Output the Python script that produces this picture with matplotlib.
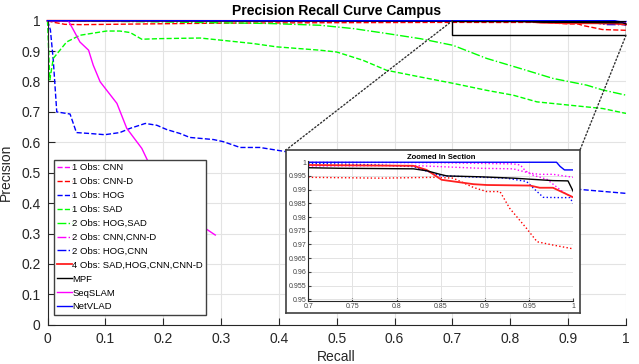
"""Precision recall curves for the Campus dataset, with a zoomed inset."""

import matplotlib

matplotlib.use("Agg")

import matplotlib.pyplot as plt
from matplotlib.patches import ConnectionPatch, Rectangle

plt.rcParams["font.family"] = ["Liberation Sans", "DejaVu Sans"]

# --- data ------------------------------------------------------------------
cnn_x = [0, 0.2, 0.5, 0.7, 0.85, 0.932, 0.94, 0.946, 0.955, 0.97, 0.983, 0.99, 1.0]
cnn_y = [1, 1, 1, 1, 0.9998, 0.9994, 0.999, 0.9968, 0.9952, 0.9938, 0.9905, 0.9888, 0.987]

cnnd_x = [0, 0.01, 0.03, 0.06, 0.15, 0.3, 0.5, 0.7, 0.781, 0.845, 0.864, 0.887,
          0.902, 0.917, 0.928, 0.947, 0.959, 0.977, 1.0]
cnnd_y = [1, 0.995, 0.988, 0.987, 0.989, 0.992, 0.9935, 0.9945, 0.9942, 0.9945,
          0.9942, 0.9908, 0.9893, 0.9893, 0.9832, 0.9759, 0.971, 0.9698, 0.9684]

hog_x = [0, 0.005, 0.010, 0.016, 0.039, 0.050, 0.073, 0.099, 0.125, 0.143, 0.169,
         0.189, 0.206, 0.229, 0.246, 0.287, 0.304, 0.333, 0.367, 0.413, 0.5, 0.6,
         0.7, 0.8, 0.92, 1.0]
hog_y = [1, 0.97, 0.87, 0.70, 0.693, 0.632, 0.629, 0.625, 0.632, 0.646, 0.662,
         0.656, 0.642, 0.629, 0.616, 0.609, 0.602, 0.583, 0.583, 0.569, 0.545, 0.52,
         0.495, 0.47, 0.445, 0.432]

sad_x = [0, 0.004, 0.010, 0.033, 0.056, 0.102, 0.125, 0.143, 0.163, 0.194, 0.264,
         0.310, 0.355, 0.396, 0.471, 0.500, 0.545, 0.586, 0.644, 0.701, 0.759,
         0.805, 0.846, 0.903, 0.960, 1.0]
sad_y = [1, 0.805, 0.876, 0.930, 0.952, 0.966, 0.966, 0.961, 0.939, 0.941, 0.943,
         0.934, 0.925, 0.914, 0.903, 0.897, 0.870, 0.837, 0.815, 0.794, 0.771,
         0.755, 0.733, 0.722, 0.711, 0.695]

hogsad_x = [0, 0.05, 0.2, 0.3, 0.38, 0.471, 0.529, 0.586, 0.644, 0.701, 0.759,
            0.817, 0.874, 0.932, 0.960, 1.0]
hogsad_y = [1, 0.999, 0.996, 0.993, 0.991, 0.985, 0.974, 0.958, 0.941, 0.919,
            0.876, 0.843, 0.810, 0.788, 0.772, 0.755]

cnncnnd_x = [0, 0.3, 0.7, 0.82, 0.894, 0.932, 0.951, 0.962, 0.977, 1.0]
cnncnnd_y = [1, 0.9995, 0.9986, 0.9988, 0.9978, 0.9976, 0.996, 0.9956, 0.9956, 0.9945]

hogcnn_x = [0, 0.3, 0.7, 0.781, 0.819, 0.849, 0.879, 0.924, 0.947, 0.955, 0.966,
            0.985, 0.996, 1.0]
hogcnn_y = [1, 0.9998, 0.9996, 0.999, 0.9984, 0.9951, 0.9947, 0.9942, 0.993,
            0.9905, 0.9872, 0.9871, 0.9871, 0.985]

obs4_x = [0, 0.3, 0.7, 0.819, 0.834, 0.851, 0.887, 0.902, 0.951, 0.962, 0.977, 1.0]
obs4_y = [1, 0.9995, 0.999, 0.9987, 0.9972, 0.9936, 0.992, 0.9917, 0.9915, 0.9907,
          0.9907, 0.9872]

mpf_x = [0, 0.3, 0.7, 0.736, 0.819, 0.834, 0.849, 0.857, 0.894, 0.932, 0.977, 0.994, 1.0]
mpf_y = [1, 0.999, 0.998, 0.9978, 0.9976, 0.9969, 0.9956, 0.995, 0.9947, 0.9942,
         0.9933, 0.9932, 0.9893]

seqslam_x = [0, 0.036, 0.045, 0.056, 0.071, 0.079, 0.091, 0.120, 0.137, 0.148,
             0.163, 0.174, 0.22, 0.264, 0.290]
seqslam_y = [1, 1, 0.969, 0.930, 0.903, 0.854, 0.799, 0.728, 0.646, 0.618, 0.580,
             0.536, 0.43, 0.328, 0.295]

netvlad_x = [0, 0.981, 0.985, 0.99, 1.0]
netvlad_y = [1, 1, 0.9985, 0.9972, 0.9972]

ticks_main = [0, 0.1, 0.2, 0.3, 0.4, 0.5, 0.6, 0.7, 0.8, 0.9, 1]
ticks_main_lbl = ["0", "0.1", "0.2", "0.3", "0.4", "0.5", "0.6", "0.7", "0.8", "0.9", "1"]
ticks_zx = [0.7, 0.75, 0.8, 0.85, 0.9, 0.95, 1]
ticks_zx_lbl = ["0.7", "0.75", "0.8", "0.85", "0.9", "0.95", "1"]
ticks_zy = [0.95, 0.955, 0.96, 0.965, 0.97, 0.975, 0.98, 0.985, 0.99, 0.995, 1]
ticks_zy_lbl = ["0.95", "0.955", "0.96", "0.965", "0.97", "0.975", "0.98", "0.985",
                "0.99", "0.995", "1"]

# (label, x, y, colour, main style, inset style, width)
series = [
    ("1 Obs: CNN", cnn_x, cnn_y, "#ff00ff", "--", ":", 1.0),
    ("1 Obs: CNN-D", cnnd_x, cnnd_y, "#ff0000", "--", ":", 1.0),
    ("1 Obs: HOG", hog_x, hog_y, "#0000ff", "--", ":", 1.0),
    ("1 Obs: SAD", sad_x, sad_y, "#00ff00", "--", ":", 1.0),
    ("2 Obs: HOG,SAD", hogsad_x, hogsad_y, "#00ff00", "-.", ":", 1.0),
    ("2 Obs: CNN,CNN-D", cnncnnd_x, cnncnnd_y, "#ff00ff", "-.", ":", 1.0),
    ("2 Obs: HOG,CNN", hogcnn_x, hogcnn_y, "#0000ff", "-.", ":", 1.0),
    ("4 Obs: SAD,HOG,CNN,CNN-D", obs4_x, obs4_y, "#ff2020", "-", "-", 1.3),
    ("MPF", mpf_x, mpf_y, "#000000", "-", "-", 1.0),
    ("SeqSLAM", seqslam_x, seqslam_y, "#ff00ff", "-", "-", 1.0),
    ("NetVLAD", netvlad_x, netvlad_y, "#0000ff", "-", "-", 1.0),
]

W, H = 639, 364
fig = plt.figure(figsize=(W / 100, H / 100), dpi=100)

# --- main axes --------------------------------------------------------------
ax = fig.add_axes([47.5 / W, 1 - 324.7 / H, 578.5 / W, 304.0 / H])
for label, xs, ys, col, ls, _, lw in series:
    ax.plot(xs, ys, color=col, linestyle=ls, linewidth=lw, label=label,
            clip_on=False)
ax.set_xlim(0, 1)
ax.set_ylim(0, 1)
ax.set_xticks(ticks_main, ticks_main_lbl)
ax.set_yticks(ticks_main, ticks_main_lbl)
ax.grid(True, color="#e3e3e3", linewidth=0.8)
ax.set_axisbelow(True)
for side in ("top", "right"):
    ax.spines[side].set_visible(False)
for side in ("left", "bottom"):
    ax.spines[side].set_color("#262626")
ax.tick_params(direction="in", length=5, labelsize=10, colors="#262626", pad=5)
ax.set_xlabel("Recall", fontsize=10, color="#262626", labelpad=3)
ax.set_ylabel("Precision", fontsize=10, color="#262626", labelpad=6)
ax.set_title("Precision Recall Curve Campus", fontsize=10, fontweight="bold", pad=4)

ax.add_patch(Rectangle((0.7, 0.952), 0.3, 0.048, fill=False, edgecolor="black",
                       linewidth=1.0, zorder=4))

leg = ax.legend(loc="upper left", bbox_to_anchor=(54 / W, 1 - 160 / H),
                bbox_transform=fig.transFigure, borderaxespad=0, fontsize=6.8,
                labelspacing=0.52, handlelength=1.55, handletextpad=0.05,
                borderpad=0.35, fancybox=False, framealpha=1, edgecolor="#404040")
leg.get_frame().set_linewidth(1.0)

# --- inset ------------------------------------------------------------------
frame = fig.add_axes([286 / W, 1 - 313 / H, 294 / W, 163 / H], zorder=5)
frame.set_xticks([])
frame.set_yticks([])
for sp in frame.spines.values():
    sp.set_color("#404040")
    sp.set_linewidth(1.2)

axz = fig.add_axes([308.3 / W, 1 - 300.7 / H, 265 / W, 140.1 / H], zorder=6)
for label, xs, ys, col, _, ls, lw in series:
    axz.plot(xs, ys, color=col, linestyle=ls, linewidth=lw)
axz.set_xlim(0.7, 1)
axz.set_ylim(0.9495, 1.0006)
axz.set_xticks(ticks_zx, ticks_zx_lbl)
axz.set_yticks(ticks_zy, ticks_zy_lbl)
axz.grid(True, color="#e3e3e3", linewidth=0.7)
axz.set_axisbelow(True)
for side in ("top", "right"):
    axz.spines[side].set_visible(False)
for side in ("left", "bottom"):
    axz.spines[side].set_color("#262626")
    axz.spines[side].set_linewidth(0.8)
axz.tick_params(direction="in", length=2.5, labelsize=5, colors="#404040", pad=1.5)
axz.set_title("Zoomed In Section", fontsize=5.5, fontweight="bold", pad=1)

for xa, ya, xb in [(0.7, 1.0, 286), (1.0, 0.952, 580)]:
    con = ConnectionPatch(xyA=(xa, ya), coordsA=ax.transData,
                          xyB=(xb / W, 1 - 150 / H), coordsB=fig.transFigure,
                          linestyle=":", color="#303030", linewidth=1.0)
    fig.add_artist(con)

fig.savefig("out.png", dpi=100)
